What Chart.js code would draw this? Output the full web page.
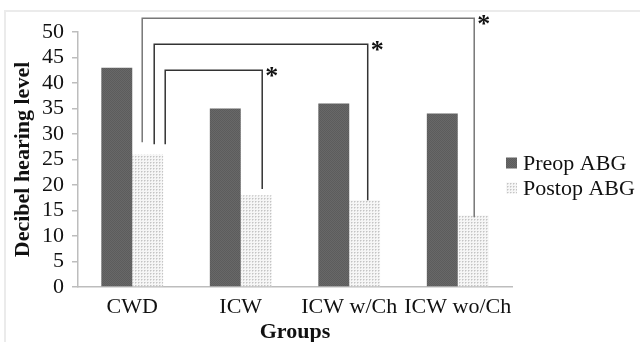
<!DOCTYPE html>
<html>
<head>
<meta charset="utf-8">
<script src="https://cdn.jsdelivr.net/npm/chart.js@4/dist/chart.umd.min.js"></script>
<style>
  html, body { margin: 0; padding: 0; background: #fff; }
  #wrap { width: 640px; height: 342px; position: relative; }
</style>
</head>
<body>
<div id="wrap"><canvas id="c" width="640" height="342"></canvas></div>
<script>
// ---- data ----
const categories = ['CWD', 'ICW', 'ICW w/Ch', 'ICW wo/Ch'];
const seriesNames = ['Preop ABG', 'Postop ABG'];
const preopABG = [43, 35, 36, 34];
const postopABG = [26, 18, 17, 14];
const yTicks = [0, 5, 10, 15, 20, 25, 30, 35, 40, 45, 50];
// significance brackets: from CWD postop to target group postop
const bracketTargets = [1, 2, 3];
const bracketTop = [42.5, 47.6, 52.7];
const bracketLeftBottom = [28, 28, 28.4];
const bracketRightBottom = [19.2, 17, 13.7];
const bracketMark = ['*', '*', '*'];

// ---- patterns ----
function makePattern(size, bg, dots) {
  const c = document.createElement('canvas');
  c.width = size; c.height = size;
  const g = c.getContext('2d');
  g.fillStyle = bg; g.fillRect(0, 0, size, size);
  dots.forEach(d => { g.fillStyle = d[2]; g.fillRect(d[0], d[1], 1, 1); });
  return g.createPattern(c, 'repeat');
}
const preopFill = makePattern(2, '#686868', [[0, 0, '#5c5c5c'], [1, 1, '#5c5c5c']]);
const postopFill = makePattern(3, '#f6f6f6', [[0, 0, '#c4c4c4'], [1, 0, '#dcdcdc'], [0, 1, '#dcdcdc']]);

const serif = "'Liberation Serif', 'Times New Roman', serif";

const framePlugin = {
  id: 'frame',
  beforeDraw(chart) {
    const c = chart.ctx;
    c.save();
    c.fillStyle = '#ebebeb';
    c.fillRect(4, 10, 636, 2);
    c.fillRect(4, 10, 2, 332);
    c.restore();
  }
};

const bracketPlugin = {
  id: 'brackets',
  afterDatasetsDraw(chart) {
    const c = chart.ctx;
    const y = chart.scales.y;
    const meta = chart.getDatasetMeta(1);
    const leftOffsets = [17.5, 6.5, -5.5];
    const rightOffsets = [6, 3, 1];
    const colors = ['#333', '#333', '#777'];
    c.save();
    bracketTargets.forEach((t, i) => {
      const x0 = meta.data[0].x + leftOffsets[i];
      const x1 = meta.data[t].x + rightOffsets[i];
      const yt = y.getPixelForValue(bracketTop[i]);
      c.beginPath();
      c.strokeStyle = colors[i];
      c.lineWidth = 1.5;
      c.moveTo(x0, y.getPixelForValue(bracketLeftBottom[i]));
      c.lineTo(x0, yt);
      c.lineTo(x1, yt);
      c.lineTo(x1, y.getPixelForValue(bracketRightBottom[i]));
      c.stroke();
      c.fillStyle = '#111';
      c.font = 'bold 26px ' + serif;
      c.textAlign = 'left';
      c.textBaseline = 'middle';
      c.fillText(bracketMark[i], x1 + 3, yt + 7);
    });
    c.restore();
  }
};

const legendPlugin = {
  id: 'customLegend',
  afterDraw(chart) {
    const c = chart.ctx;
    const a = chart.chartArea;
    c.save();
    c.font = '22px ' + serif;
    c.textAlign = 'left';
    c.textBaseline = 'middle';
    chart.data.datasets.forEach((ds, i) => {
      const cy = a.top + 131 + i * 25;
      const bx = a.right - 6;
      c.fillStyle = ds.backgroundColor;
      c.fillRect(bx, cy - 5.5, 11, 11);
      c.fillStyle = '#111';
      c.fillText(ds.label, bx + 17, cy + 1);
    });
    c.restore();
  }
};

new Chart(document.getElementById('c'), {
  type: 'bar',
  data: {
    labels: categories,
    datasets: [
      { label: seriesNames[0], data: preopABG, backgroundColor: preopFill, borderWidth: 0 },
      { label: seriesNames[1], data: postopABG, backgroundColor: postopFill, borderWidth: 0 }
    ]
  },
  options: {
    responsive: false,
    animation: false,
    devicePixelRatio: 1,
    layout: { padding: { left: 5, top: 32, right: 128, bottom: 0 } },
    datasets: { bar: { categoryPercentage: 0.57, barPercentage: 1.0 } },
    plugins: { legend: { display: false }, tooltip: { enabled: false } },
    scales: {
      x: {
        grid: { display: false, drawTicks: false },
        border: { display: true, color: '#bdbdbd', width: 1.5 },
        ticks: { color: '#111', font: { family: serif, size: 22 }, padding: 7, maxRotation: 0, autoSkip: false },
        title: { display: true, text: 'Groups', color: '#111', font: { family: serif, size: 22, weight: 'bold' }, padding: { top: 0, bottom: -4 } },
        afterFit(s) { s.height = 55; }
      },
      y: {
        min: 0, max: 50,
        afterBuildTicks(s) { s.ticks = yTicks.map(v => ({ value: v })); },
        grid: { display: true, drawOnChartArea: false, drawTicks: true, tickLength: 6, color: '#bdbdbd', lineWidth: 1.5 },
        border: { display: true, color: '#bdbdbd', width: 1.5 },
        ticks: { color: '#111', font: { family: serif, size: 22 }, padding: 8, autoSkip: false, stepSize: 5 },
        title: { display: true, text: 'Decibel hearing level', color: '#111', font: { family: serif, size: 22, weight: 'bold' }, padding: { top: 5, bottom: 0 } },
        afterFit(s) { s.width = 73; }
      }
    }
  },
  plugins: [framePlugin, bracketPlugin, legendPlugin]
});
</script>
</body>
</html>
